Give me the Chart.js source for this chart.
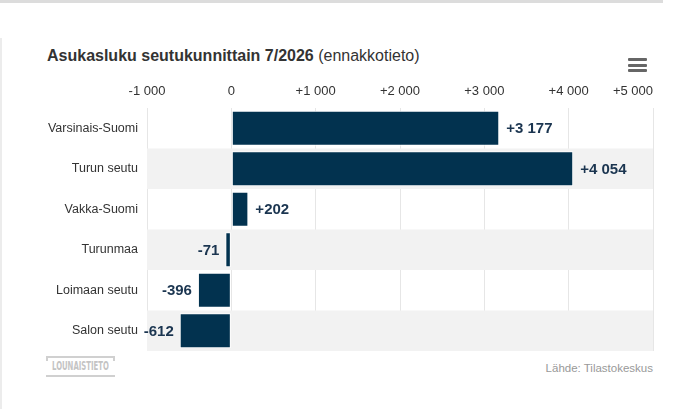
<!DOCTYPE html>
<html lang="fi">
<head>
  <meta charset="UTF-8">
  <title>Asukasluku seutukunnittain</title>
  <script src="https://cdn.jsdelivr.net/npm/chart.js"></script>
  <style>
    body {
      margin: 0;
      width: 681px;
      height: 409px;
      background: #fff;
      font-family: "Liberation Sans", Arial, sans-serif;
      position: relative;
      overflow: hidden;
    }
    .topline {
      position: absolute;
      left: 0; top: 0;
      width: 663px; height: 3px;
      background: #dcdcdc;
    }
    .leftline {
      position: absolute;
      left: 0; top: 38px;
      width: 2px; height: 371px;
      background: #ececec;
    }
    .title {
      position: absolute;
      left: 47px; top: 47px;
      font-size: 16px;
      color: #333;
      white-space: nowrap;
    }
    .title b { font-weight: bold; }
    .menu {
      position: absolute;
      left: 628px; top: 58px;
      width: 19px;
    }
    .menu div {
      height: 3px;
      background: #666;
      margin-bottom: 2.5px;
      border-radius: 1px;
    }
    .logo {
      position: absolute;
      left: 46px; top: 356px;
      width: 69px; height: 17px;
      border-top: 2px solid #d0d0d0;
      border-bottom: 2px solid #d0d0d0;
      color: #c4c4c4;
      font-family: "DejaVu Sans Condensed", "DejaVu Sans", sans-serif;
      font-weight: bold;
      font-size: 12px;
      line-height: 17px;
      text-align: center;
      white-space: nowrap;
    }
    .logo span {
      display: inline-block;
      transform: scaleX(0.64);
      margin-left: -20px;
      margin-right: -20px;
    }
    .logo:before, .logo:after {
      content: "";
      position: absolute;
      top: -2px;
      width: 2px; height: 5px;
      background: #d0d0d0;
    }
    .logo:before { left: 0; }
    .logo:after { right: 0; }
    .source {
      position: absolute;
      right: 28px; top: 362px;
      font-size: 11.5px;
      color: #999;
    }
    .chart-box {
      position: absolute;
      left: 0; top: 76px;
      width: 681px; height: 275px;
    }
  </style>
</head>
<body>
  <div class="topline"></div>
  <div class="leftline"></div>
  <div class="title"><b>Asukasluku seutukunnittain 7/2026</b> (ennakkotieto)</div>
  <div class="menu"><div></div><div></div><div></div></div>
  <div class="chart-box"><canvas id="chart"></canvas></div>
  <div class="logo"><span>LOUNAISTIETO</span></div>
  <div class="source">Lähde: Tilastokeskus</div>

  <script>
    const regions = ['Varsinais-Suomi', 'Turun seutu', 'Vakka-Suomi', 'Turunmaa', 'Loimaan seutu', 'Salon seutu'];
    const changes = [3177, 4054, 202, -71, -396, -612];
    const tickValues = [-1000, 0, 1000, 2000, 3000, 4000, 5000];

    const barColor = '#02324f';

    function fmt(v) {
      const s = Math.abs(v).toString().replace(/\B(?=(\d{3})+(?!\d))/g, ' ');
      if (v > 0) return '+' + s;
      if (v < 0) return '-' + s;
      return '0';
    }

    // alternating row bands behind the bars
    const bandPlugin = {
      id: 'bands',
      beforeDatasetsDraw(chart) {
        const { ctx, chartArea, scales } = chart;
        const y = scales.y;
        ctx.save();
        ctx.fillStyle = '#f2f2f2';
        regions.forEach((r, i) => {
          if (i % 2 === 1) {
            const c = y.getPixelForValue(i);
            const half = (y.getPixelForValue(1) - y.getPixelForValue(0)) / 2;
            ctx.fillRect(chartArea.left, c - half, chartArea.right - chartArea.left, half * 2);
          }
        });
        ctx.restore();
      },
      beforeDraw(chart) {
        // top axis labels, last one kept inside the plot
        const { ctx, chartArea, scales } = chart;
        const x = scales.x;
        ctx.save();
        ctx.font = '13px "Liberation Sans", Arial, sans-serif';
        ctx.fillStyle = '#333';
        ctx.textBaseline = 'middle';
        tickValues.forEach((v, i) => {
          const px = x.getPixelForValue(v);
          const label = fmt(v);
          if (i === tickValues.length - 1) {
            ctx.textAlign = 'right';
            ctx.fillText(label, chartArea.right, chartArea.top - 17);
          } else {
            ctx.textAlign = 'center';
            ctx.fillText(label, px, chartArea.top - 17);
          }
        });
        ctx.restore();
      }
    };

    const labelPlugin = {
      id: 'valueLabels',
      afterDatasetsDraw(chart) {
        const { ctx } = chart;
        const meta = chart.getDatasetMeta(0);
        ctx.save();
        ctx.font = 'bold 15px "Liberation Sans", Arial, sans-serif';
        ctx.fillStyle = '#1b3550';
        ctx.textBaseline = 'middle';
        meta.data.forEach((bar, i) => {
          const v = changes[i];
          if (v >= 0) {
            ctx.textAlign = 'left';
            ctx.fillText(fmt(v), bar.x + 7, bar.y + 1);
          } else {
            ctx.textAlign = 'right';
            ctx.fillText(fmt(v), bar.x - 6, bar.y + 1);
          }
        });
        ctx.restore();
      }
    };

    new Chart(document.getElementById('chart'), {
      type: 'bar',
      data: {
        labels: regions,
        datasets: [{
          data: changes,
          backgroundColor: barColor,
          borderColor: '#ffffff',
          borderWidth: 1,
          borderSkipped: false,
          barPercentage: 0.86,
          categoryPercentage: 1
        }]
      },
      options: {
        indexAxis: 'y',
        responsive: true,
        maintainAspectRatio: false,
        animation: false,
        layout: { padding: { left: 0, right: 28, top: 0, bottom: 0 } },
        plugins: {
          legend: { display: false },
          tooltip: { enabled: false }
        },
        scales: {
          x: {
            position: 'top',
            min: -1000,
            max: 5000,
            afterBuildTicks(scale) {
              scale.ticks = tickValues.map(v => ({ value: v }));
            },
            afterFit(scale) { scale.height = 32; },
            ticks: { display: false },
            grid: { color: '#e6e6e6', drawTicks: false },
            border: { display: false }
          },
          y: {
            afterFit(scale) {
              scale.width = 147;
              scale.paddingTop = 0;
              scale.paddingBottom = 0;
            },
            ticks: {
              color: '#333',
              padding: 9,
              font: { size: 12.5, family: '"Liberation Sans", Arial, sans-serif' }
            },
            grid: { display: false, drawTicks: false },
            border: { display: false }
          }
        }
      },
      plugins: [bandPlugin, labelPlugin]
    });
  </script>
</body>
</html>
